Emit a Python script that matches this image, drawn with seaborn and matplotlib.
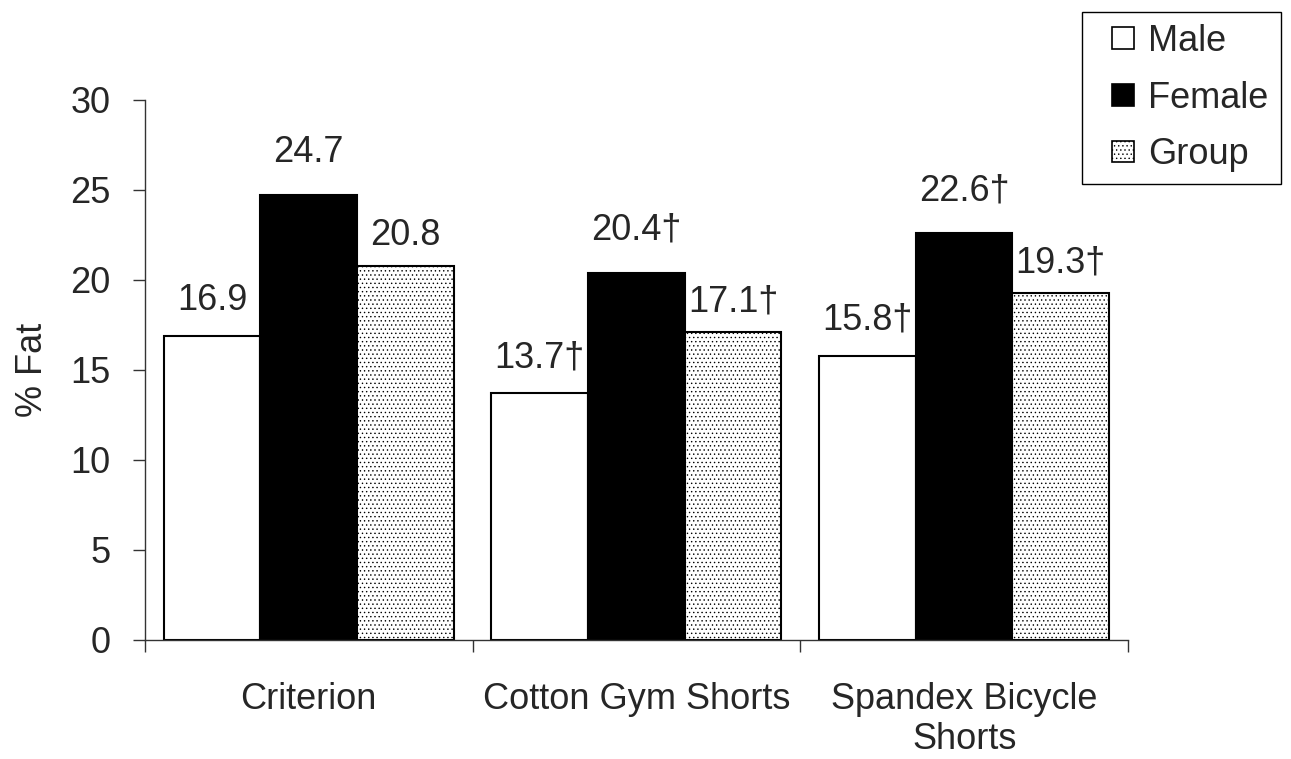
import numpy as np
import matplotlib
matplotlib.use("Agg")
import matplotlib.pyplot as plt
from matplotlib.patches import Rectangle
from matplotlib.legend_handler import HandlerPatch
import seaborn as sns
import pandas as pd

# valores
categorias = ["Criterion", "Cotton Gym Shorts", "Spandex Bicycle\nShorts"]
grupos = ["Male", "Female", "Group"]
male = [16.9, 13.7, 15.8]
female = [24.7, 20.4, 22.6]
group = [20.8, 17.1, 19.3]
# marca de diferencia significativa (†)
dagger = [False, True, True]

df = pd.DataFrame({
    "categoria": categorias * 3,
    "grupo": [g for g in grupos for _ in categorias],
    "fat": male + female + group,
})

sns.set_style("white")
plt.rcParams["font.family"] = ["Liberation Sans", "DejaVu Sans"]
plt.rcParams["hatch.linewidth"] = 0.5
plt.rcParams["hatch.color"] = "black"
FS = 26

fig = plt.figure(figsize=(12.91, 7.59), dpi=100)
ax = fig.add_axes([0.1123, 0.1568, 0.7614, 0.7115])

sns.barplot(data=df, x="categoria", y="fat", hue="grupo", order=categorias, hue_order=grupos,
            palette=["white", "black", "white"], width=0.885, edgecolor="black", linewidth=1.5,
            saturation=1, ax=ax, legend=True)

##trama punteada para Group
for p in ax.containers[2]:
    p.set_hatch("....")

offsets = [13, 18, 9]  # distancia de la etiqueta a la barra (pt)
for i, cont in enumerate(ax.containers):
    vals = [male, female, group][i]
    labels = [f"{v:.1f}" + ("†" if d else "") for v, d in zip(vals, dagger)]
    ax.bar_label(cont, labels=labels, padding=offsets[i], fontsize=FS)

ax.set_ylim(0, 30)
ax.set_xlim(-0.5, 2.5)
ax.set_yticks(range(0, 31, 5))
ax.tick_params(axis="y", direction="out", length=8.6, width=1, left=True, pad=16, labelsize=FS, color="#333333")
ax.set_xticks([0, 1, 2])
ax.set_xticklabels(categorias, fontsize=FS)
ax.tick_params(axis="x", which="major", length=0, pad=30)
ax.set_xticks([-0.5, 0.5, 1.5, 2.5], minor=True)
ax.tick_params(axis="x", which="minor", direction="out", length=8.6, width=1, bottom=True, color="#333333")

ax.set_xlabel("")
ax.set_ylabel("% Fat", fontsize=FS, labelpad=15)

sns.despine(ax=ax)
for s in ["left", "bottom"]:
    ax.spines[s].set_color("#333333")
    ax.spines[s].set_linewidth(1)


#cuadrado pequeño pegado al texto dentro del espacio del handle
def cuadrado(legend, orig_handle, xdescent, ydescent, width, height, fontsize):
    s = 15.5
    return Rectangle((-xdescent + width - s, -ydescent + (height - s) / 2), s, s)


ax.legend_.remove()
handles = [Rectangle((0, 0), 1, 1, facecolor="white", edgecolor="black", linewidth=1.2),
           Rectangle((0, 0), 1, 1, facecolor="black", edgecolor="black", linewidth=1.2),
           Rectangle((0, 0), 1, 1, facecolor="white", edgecolor="black", linewidth=1.2, hatch="....")]
leg = fig.legend(handles, grupos, loc="upper left", bbox_to_anchor=(1082 / 1291, 1 - 12 / 759),
                 fontsize=FS, frameon=True, fancybox=False, edgecolor="black", framealpha=1,
                 handlelength=1.11, handleheight=0.6, handletextpad=0.4, labelspacing=0.6,
                 borderpad=0.33, borderaxespad=0,
                 handler_map={Rectangle: HandlerPatch(patch_func=cuadrado)})
leg.get_frame().set_linewidth(1)

plt.savefig("out.png", dpi=100)
